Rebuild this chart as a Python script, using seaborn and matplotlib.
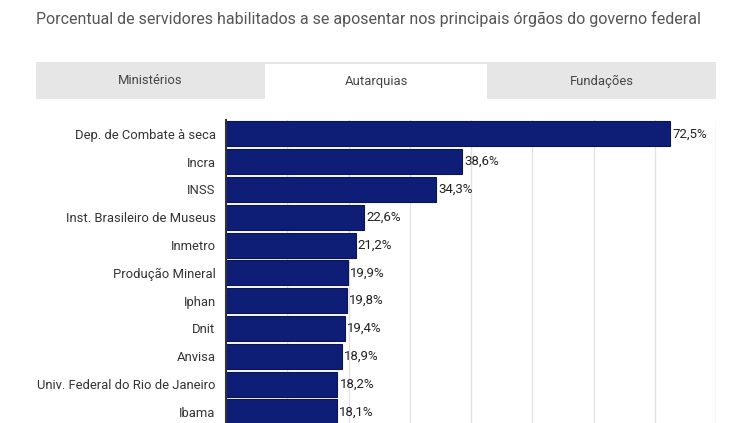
import matplotlib
matplotlib.use("Agg")
import matplotlib.pyplot as plt
import seaborn as sns
from matplotlib.patches import Rectangle

# Data
orgaos = ['Dep. de Combate à seca', 'Incra', 'INSS', 'Inst. Brasileiro de Museus',
          'Inmetro', 'Produção Mineral', 'Iphan', 'Dnit', 'Anvisa',
          'Univ. Federal do Rio de Janeiro', 'Ibama']
percentual = [72.5, 38.6, 34.3, 22.6, 21.2, 19.9, 19.8, 19.4, 18.9, 18.2, 18.1]
abas = ['Ministérios', 'Autarquias', 'Fundações']
aba_ativa = 'Autarquias'
titulo = 'Porcentual de servidores habilitados a se aposentar nos principais órgãos do governo federal'

sns.set_style('white')
plt.rcParams['font.family'] = ['Roboto', 'DejaVu Sans']

W, H = 753, 423
fig = plt.figure(figsize=(W / 100, H / 100), dpi=100)
fig.patch.set_facecolor('white')

# title
fig.text(36 / W, 1 - 19 / H, titulo, fontsize=11.55, color='#555555', va='center', ha='left')

# tab strip
tab_left, tab_right, tab_top, tab_bot = 36, 716, 62, 99
fig.patches.append(Rectangle((tab_left / W, 1 - tab_bot / H), (tab_right - tab_left) / W,
                             (tab_bot - tab_top) / H, transform=fig.transFigure,
                             facecolor='#e6e6e6', edgecolor='none'))
tab_edges = [36, 265, 487, 716]
for i, nome in enumerate(abas):
    x0, x1 = tab_edges[i], tab_edges[i + 1]
    if nome == aba_ativa:
        fig.patches.append(Rectangle((x0 / W, 1 - 101 / H), (x1 - x0) / W, 37 / H,
                                     transform=fig.transFigure, facecolor='white', edgecolor='none'))
    fig.text((x0 + x1) / 2 / W, 1 - 81 / H, nome, fontsize=9.4, color='#444444',
             ha='center', va='center')

# bar chart
ax = fig.add_axes([226 / W, 0, (716 - 226) / W, (423 - 120) / H])
sns.barplot(x=percentual, y=orgaos, orient='h', color='#0e1d76', saturation=1,
            width=0.9, edgecolor='#0a1552', linewidth=0.8, ax=ax)
ax.set_xlim(0, 80)
ax.set_ylim(10.4, -0.5)
ax.set_xticks(range(0, 81, 10))
ax.xaxis.grid(True, color='#e2e2e2', linewidth=1)
ax.set_axisbelow(True)
ax.tick_params(axis='x', bottom=False, labelbottom=False)
ax.tick_params(axis='y', left=False, length=0, pad=7.5, labelsize=9.4, labelcolor='#333333')
for s in ['top', 'right', 'bottom']:
    ax.spines[s].set_visible(False)
ax.spines['left'].set_color('#333333')
ax.spines['left'].set_linewidth(1.5)
ax.set_xlabel('')
ax.set_ylabel('')

rotulos = [f'{v:.1f}%'.replace('.', ',') for v in percentual]
ax.bar_label(ax.containers[0], labels=rotulos, padding=1.5, fontsize=9.5, color='#222222')

fig.savefig('out.png', dpi=100)
